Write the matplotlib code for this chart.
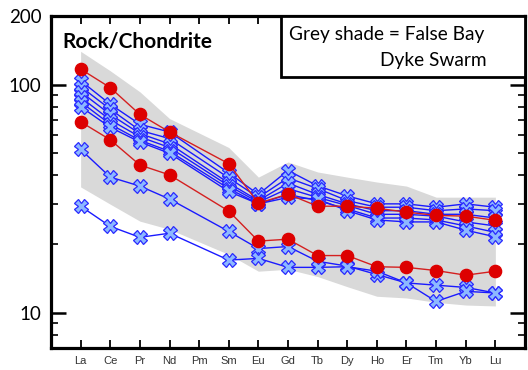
import numpy as np
import matplotlib.pyplot as plt
from matplotlib.patches import Rectangle
from matplotlib.ticker import FixedLocator, NullFormatter

# REE order (Pm has no data)
elements = ['La', 'Ce', 'Pr', 'Nd', 'Pm', 'Sm', 'Eu', 'Gd', 'Tb', 'Dy', 'Ho', 'Er', 'Tm', 'Yb', 'Lu']
data_elements = ['La', 'Ce', 'Pr', 'Nd', 'Sm', 'Eu', 'Gd', 'Tb', 'Dy', 'Ho', 'Er', 'Tm', 'Yb', 'Lu']

# False Bay Dyke Swarm envelope
shade_upper = [140, 115, 93, 71, 53, 39.3, 45.8, 41.4, 39.3, 37.4, 35.9, 32.1, 32.1, 32.1]
shade_lower = [35.6, 29.9, 25.2, 23.2, 18.0, 15.2, 15.5, 14.4, 13.0, 11.8, 11.6, 11.1, 10.8, 10.7]

# samples drawn with red circles
red_1 = [117, 97, 74, 62, 45, 30.2, 33.1, 29.3, 29.3, 28.7, 27.6, 26.7, 26.5, 25.4]
red_2 = [68.7, 57.3, 44.4, 40.2, 27.9, 20.6, 21.0, 17.8, 17.8, 15.9, 15.8, 15.3, 14.6, 15.2]

# samples drawn with blue crosses
blue_1 = [104, 82, 67, 62, 41, 33, 42, 36, 32.5, 30, 30, 29, 30, 29]
blue_2 = [98, 78, 63, 58, 39, 32, 39, 35, 31, 29, 29, 28, 28.5, 28]
blue_3 = [93, 74, 61, 55, 37, 31, 37, 33, 30, 28, 28, 27, 27, 26]
blue_4 = [88, 70, 59, 53, 36, 30.5, 35, 32, 29.5, 27, 27, 26.5, 25, 24]
blue_5 = [84, 67, 57, 51, 35, 30, 33, 31, 28.5, 26, 26, 25.5, 24, 22.5]
blue_6 = [80, 65, 56, 50, 34, 30, 32, 31.5, 28, 25.5, 25, 25, 23, 21.5]
blue_7 = [52, 39.3, 35.9, 31.5, 22.7, 19.1, 19.5, 16.8, 16.0, 14.7, 13.5, 13.2, 12.9, 12.2]
blue_8 = [29.3, 23.9, 21.4, 22.3, 17.0, 17.3, 15.8, 15.8, 15.9, 15.2, 13.5, 11.2, 12.4, 12.2]

blue_series = [blue_1, blue_2, blue_3, blue_4, blue_5, blue_6, blue_7, blue_8]
red_series = [red_1, red_2]

x_all = np.arange(len(elements))
x_data = np.array([elements.index(e) for e in data_elements])

fig = plt.figure(figsize=(5.28, 3.70), dpi=100)
ax = fig.add_axes([0.0966, 0.0595, 0.8977, 0.8973])

ax.fill_between(x_data, shade_lower, shade_upper, color='#d9d9d9', lw=0, zorder=1)

for s in blue_series:
    ax.plot(x_data, s, color='#1a1aff', lw=1.0, marker='X', ms=10,
            mfc='#8cb8ff', mec='#2a2aff', mew=0.9, zorder=3)
for s in red_series:
    ax.plot(x_data, s, color='#d42020', lw=1.0, marker='o', ms=8.8,
            mfc='#dd0000', mec='#dd0000', zorder=4)

ax.set_yscale('log')
ax.set_ylim(7, 200)
ax.set_xlim(-1, 15)

ax.yaxis.set_major_locator(FixedLocator([10, 100, 200]))
ax.set_yticklabels(['10', '100', '200'], fontsize=13.5, family='Lato')
ax.yaxis.set_minor_locator(FixedLocator([8, 9, 20, 30, 40, 50, 60, 70, 80, 90]))
ax.yaxis.set_minor_formatter(NullFormatter())
ax.set_xticks(x_all)
ax.set_xticklabels(elements, fontsize=8, color='#333333', family='Liberation Sans')

ax.tick_params(axis='y', which='major', direction='in', length=11, width=1.8, pad=7,
               right=True)
ax.tick_params(axis='y', which='minor', direction='in', length=5, width=1.2, right=True)
ax.tick_params(axis='x', which='major', direction='in', length=6, width=1.3, pad=6,
               top=True)
for sp in ax.spines.values():
    sp.set_linewidth(2.3)

ax.text(0.025, 0.922, 'Rock/Chondrite', transform=ax.transAxes, fontsize=15,
        fontweight='bold', family='Lato', va='center', ha='left', zorder=6)

box = Rectangle((0.485, 0.816), 0.515, 0.184, transform=ax.transAxes,
                facecolor='white', edgecolor='black', lw=2.0, zorder=5, clip_on=False)
ax.add_patch(box)
ax.text(0.502, 0.943, 'Grey shade = False Bay', transform=ax.transAxes, fontsize=13.8,
        family='Lato', va='center', ha='left', zorder=6)
ax.text(0.920, 0.867, 'Dyke Swarm', transform=ax.transAxes, fontsize=13.8,
        family='Lato', va='center', ha='right', zorder=6)

fig.savefig('out.png', dpi=100)
